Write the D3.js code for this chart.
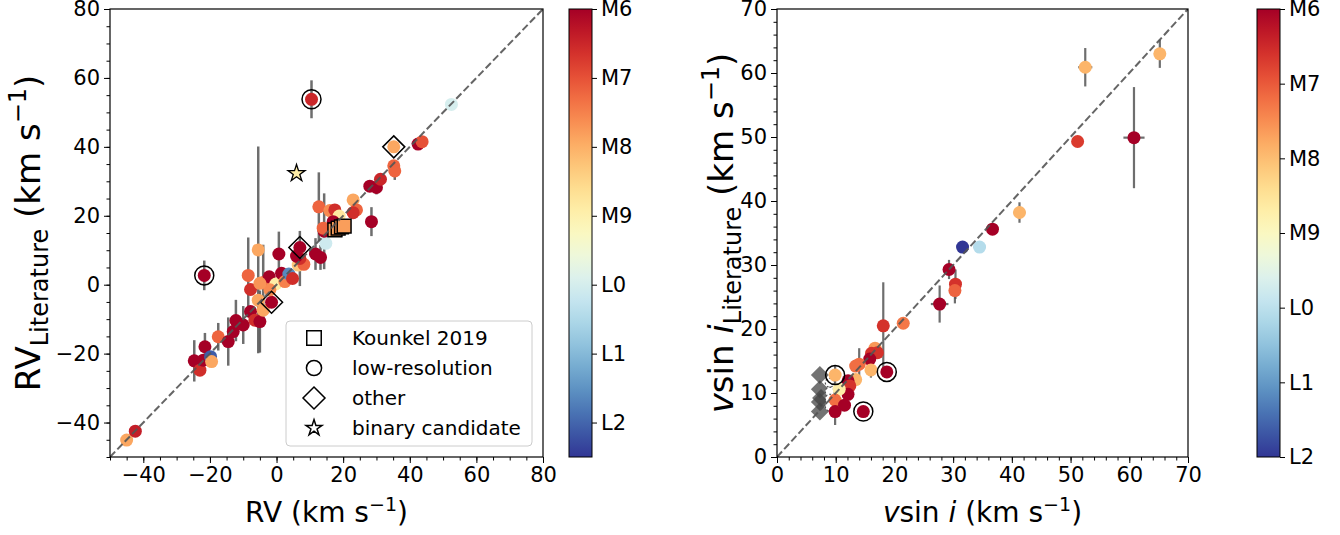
<!DOCTYPE html>
<html><head><meta charset="utf-8">
<script src="https://cdn.jsdelivr.net/npm/d3@7"></script>
<style>
body{margin:0;background:#fff}
svg{display:block}
text{font-family:"DejaVu Sans",sans-serif;fill:#000}
</style>
</head><body>
<svg id="c" width="1340" height="535"></svg>
<script>
// ---------------- DATA ----------------
// Left panel: RV vs RV literature
const rvX   = [-45.0,-42.4,-24.7,-23.0,-22.0,-21.5,-19.8,-19.5,-17.5,-14.5,-13.0,-12.2,-10.0,-7.8,-6.5,-5.0,-5.5,-8.5,-7.8,-5.5,-4.0,-4.0,-2.2,-1.5,-0.2,-2.0,0.7,1.5,2.5,3.7,4.8,6.5,7.0,8.2,7.0,11.7,13.2,14.8,12.7,14.3,16.0,17.5,18.8,17.0,17.5,18.5,19.5,20.3,23.0,24.0,23.0,28.5,28.0,30.0,31.2,35.2,35.5,35.2,42.5,43.7,52.5,10.5,-21.7,-5.0,6.0,14.3,14.0];
const rvY   = [-45.1,-42.5,-22.1,-24.8,-21.9,-18.0,-20.9,-22.3,-15.1,-16.5,-13.6,-10.4,-11.7,-7.8,-10.3,-10.7,10.1,2.7,-1.4,-4.5,-7.4,0.6,2.3,-5.1,0.2,-1.5,8.9,3.3,0.9,3.1,1.8,5.7,10.8,5.9,7.6,8.9,7.9,12.0,22.6,16.3,21.5,21.7,19.9,18.3,15.9,16.4,16.8,17.0,24.6,21.7,20.9,18.3,28.6,28.2,30.6,34.5,33.0,40.0,40.8,41.5,52.3,53.8,2.7,0.4,8.3,15.5,16.4];
const rvYErr= [0,0,6,0,0,4,0,0,4,7,0,6,5.5,0,0,9,30,11,0,0,0,11,0,0,0,0,6.5,0,0,0,0,0,0,0,8,4.6,3.6,0,10,0,0,0,0,0,0,0,3,0,0,0,0,4.2,0,2,0,0,2.6,0,0,0,0,5.5,4.3,0,0,11,0];
const rvSpT = [7.9,6.4,6.0,6.6,6.0,6.0,12.1,7.9,7.2,6.0,6.0,6.0,6.0,6.0,6.6,6.0,7.9,7.2,6.6,7.9,7.9,7.2,6.0,6.0,8.9,7.6,6.0,6.0,7.5,11.6,6.6,8.3,6.0,7.2,6.6,6.0,6.0,10.1,7.2,7.6,7.6,6.6,8.8,6.0,7.8,7.8,7.7,7.8,7.9,7.2,6.6,6.0,6.0,6.0,6.5,7.2,7.2,7.9,6.0,7.0,10.0,6.5,6.0,7.7,6.0,6.0,7.2];
const rvKounkelIdx = [44,45,46,47];
const rvLowResIdx  = [61,62];
const rvOtherIdx   = [23,32,57];
const binX = [6.0], binY = [32.3], binSpT = [8.9];

// Right panel: vsini vs vsini literature
const vsX    = [65.2,52.5,60.8,51.2,41.3,36.7,31.6,34.5,29.3,30.4,30.3,27.7,18.1,21.5,16.7,16.1,17.1,15.8,14.0,13.4,16.0,13.4,12.1,12.4,12.1,10.6,9.9,9.9,11.5,9.9,14.7,18.7];
const vsY    = [63.0,60.9,49.9,49.3,38.2,35.6,32.8,32.8,29.3,27.0,26.0,23.9,20.5,20.9,17.0,16.2,16.3,15.3,14.5,14.2,13.6,12.1,11.9,11.1,9.8,10.6,12.8,8.9,8.1,7.1,7.1,13.3];
const vsXErr = [1.0,1.2,1.8,0.8,1.0,0.8,1.0,1.0,1.0,0.8,0.8,1.5,1.0,1.0,0.8,0.8,0,0,0.8,0,0.8,0,0,0,0,0,0,0,0,0,0,0];
const vsYErr = [2.2,3.0,7.9,0.8,1.6,0.8,0.5,0.5,1.5,2.3,2.0,2.9,6.8,0.5,0.8,0.8,0,0,2.5,0,1.2,0,0,0,0,0,1.5,0,0,2.1,0.8,0.8];
const vsSpT  = [7.9,7.9,6.0,6.7,7.9,6.0,12.0,10.1,6.0,6.6,7.1,6.0,6.6,7.3,7.6,6.6,6.6,6.0,7.2,7.2,7.9,7.9,6.0,6.6,6.0,8.7,7.9,7.2,6.0,6.0,6.0,6.0];
const vsLowResIdx = [26,30,31];
const limX = [7.3,7.3,7.5,7.3,7.3], limY = [12.8,10.6,9.2,8.6,7.1];
const openX = [9.0,9.0,9.0,9.0], openY = [11.6,10.2,9.1,7.9];

const cbTickLabels = ["M6","M7","M8","M9","L0","L1","L2"];
const cbTickValues = [6,7,8,9,10,11,12];
const legendLabels = ["Kounkel 2019","low-resolution","other","binary candidate"];

// ---------------- DRAWING ----------------
const svg = d3.select("#c");
const FONT = 21;
const GRAY = "#555";

function diamondPath(h){ return `M0,${-h}L${h},0L0,${h}L${-h},0Z`; }

function drawAxes(g, x, y, xMajor, xMinor, yMajor, yMinor){
  const [x0,x1] = x.range(), [y1,y0] = y.range();
  const ax = g.append("g").attr("transform",`translate(0,${y1})`)
    .call(d3.axisBottom(x).tickValues(xMinor).tickSize(3.5).tickFormat(""));
  const ax2 = g.append("g").attr("transform",`translate(0,${y1})`)
    .call(d3.axisBottom(x).tickValues(xMajor).tickSize(6).tickPadding(4).tickFormat(d3.format("")));
  const ay = g.append("g").attr("transform",`translate(${x0},0)`)
    .call(d3.axisLeft(y).tickValues(yMinor).tickSize(3.5).tickFormat(""));
  const ay2 = g.append("g").attr("transform",`translate(${x0},0)`)
    .call(d3.axisLeft(y).tickValues(yMajor).tickSize(6).tickPadding(4).tickFormat(d3.format("")));
  [ax,ax2,ay,ay2].forEach(a=>{
    a.select(".domain").remove();
    a.selectAll(".tick line").attr("stroke","#000").attr("stroke-width",1);
    a.selectAll(".tick text").attr("font-size",FONT).attr("font-family","DejaVu Sans").attr("fill","#000");
  });
  g.append("rect").attr("x",x0).attr("y",y0).attr("width",x1-x0).attr("height",y1-y0)
    .attr("fill","none").attr("stroke","#000").attr("stroke-width",1.2);
}

function drawColorbar(g, xl, w, top, bot, vmax){
  const sc = d3.scaleLinear().domain([6,vmax]).range([top,bot]);
  const id = "grad"+Math.round(xl);
  const grad = svg.append("defs").append("linearGradient").attr("id",id)
    .attr("x1",0).attr("y1",0).attr("x2",0).attr("y2",1);
  d3.range(0,1.0001,0.05).forEach(t=>grad.append("stop").attr("offset",t).attr("stop-color",d3.interpolateRdYlBu(t)));
  g.append("rect").attr("x",xl).attr("y",top).attr("width",w).attr("height",bot-top).attr("fill",`url(#${id})`);
  const ax = g.append("g").attr("transform",`translate(${xl+w},0)`)
    .call(d3.axisRight(sc).tickValues(cbTickValues).tickSize(5).tickPadding(4).tickFormat((d,i)=>cbTickLabels[i]));
  ax.select(".domain").remove();
  ax.selectAll(".tick line").attr("stroke","#000");
  ax.selectAll(".tick text").attr("font-size",FONT).attr("fill","#000");
  g.append("rect").attr("x",xl).attr("y",top).attr("width",w).attr("height",bot-top)
    .attr("fill","none").attr("stroke","#000").attr("stroke-width",1);
}

// ----- Left panel -----
const xL = d3.scaleLinear().domain([-50,80]).range([110,543]);
const yL = d3.scaleLinear().domain([-50,80]).range([457,9]);
const colL = v => d3.interpolateRdYlBu((v-6)/6.5);
const gL = svg.append("g");
svg.append("clipPath").attr("id","clipL").append("rect").attr("x",110).attr("y",9).attr("width",433).attr("height",448);
const pL = gL.append("g").attr("clip-path","url(#clipL)");
const idxL = d3.range(rvX.length);

pL.selectAll(".eb").data(idxL.filter(i=>rvYErr[i]>0)).join("line")
  .attr("x1",i=>xL(rvX[i])).attr("x2",i=>xL(rvX[i]))
  .attr("y1",i=>yL(rvY[i]-rvYErr[i])).attr("y2",i=>yL(rvY[i]+rvYErr[i]))
  .attr("stroke",GRAY).attr("stroke-width",2.5).attr("opacity",0.85);
pL.selectAll(".pt").data(idxL).join("circle")
  .attr("cx",i=>xL(rvX[i])).attr("cy",i=>yL(rvY[i])).attr("r",6.5)
  .attr("fill",i=>colL(rvSpT[i]));
pL.selectAll(".lr").data(rvLowResIdx).join("circle")
  .attr("cx",i=>xL(rvX[i])).attr("cy",i=>yL(rvY[i])).attr("r",9.5)
  .attr("fill","none").attr("stroke","#000").attr("stroke-width",1.5);
pL.selectAll(".ot").data(rvOtherIdx).join("path")
  .attr("transform",i=>`translate(${xL(rvX[i])},${yL(rvY[i])})`).attr("d",diamondPath(11))
  .attr("fill","none").attr("stroke","#000").attr("stroke-width",1.5);
pL.selectAll(".ko").data(rvKounkelIdx).join("path")
  .attr("transform",i=>`translate(${xL(rvX[i])},${yL(rvY[i])})`).attr("d",d3.symbol(d3.symbolSquare,190)())
  .attr("fill",i=>colL(rvSpT[i])).attr("stroke","#000").attr("stroke-width",1.5);
pL.selectAll(".bin").data(binX).join("path")
  .attr("transform",(d,i)=>`translate(${xL(binX[i])},${yL(binY[i])})`).attr("d",d3.symbol(d3.symbolStar,90)())
  .attr("fill",(d,i)=>colL(binSpT[i])).attr("stroke","#000").attr("stroke-width",1.3);
pL.append("line").attr("x1",xL(-50)).attr("y1",yL(-50)).attr("x2",xL(80)).attr("y2",yL(80))
  .attr("stroke",GRAY).attr("stroke-width",2).attr("stroke-dasharray","7.4,3.2").attr("opacity",0.9);

const ticksL = [-40,-20,0,20,40,60,80];
const minorL = d3.range(-50,81,5);
drawAxes(gL, xL, yL, ticksL, minorL, ticksL, minorL);

// legend
const leg = gL.append("g");
leg.append("rect").attr("x",286).attr("y",321).attr("width",246).attr("height",125).attr("rx",4)
  .attr("fill","#fff").attr("fill-opacity",0.8).attr("stroke","#ccc").attr("stroke-width",1);
const legShapes = [d3.symbol(d3.symbolSquare,210)(), d3.symbol(d3.symbolCircle,180)(), diamondPath(11), d3.symbol(d3.symbolStar,80)()];
legendLabels.forEach((lab,i)=>{
  const cy = 338 + i*30;
  leg.append("path").attr("transform",`translate(314,${cy})`).attr("d",legShapes[i])
    .attr("fill","none").attr("stroke","#000").attr("stroke-width",1.5);
  leg.append("text").attr("x",352).attr("y",cy).attr("dy","0.35em").attr("font-size",20).text(lab);
});

// labels left
const xlabL = gL.append("text").attr("x",326.5).attr("y",522).attr("text-anchor","middle").attr("font-size",28);
xlabL.append("tspan").text("RV (km s");
xlabL.append("tspan").attr("font-size",19).attr("dy",-11).text("−1");
xlabL.append("tspan").attr("dy",11).text(")");

const ylabL = gL.append("text").attr("transform","translate(40,233) rotate(-90)").attr("text-anchor","middle").attr("font-size",34);
ylabL.append("tspan").text("RV");
ylabL.append("tspan").attr("font-size",24).attr("dy",8).text("Literature");
ylabL.append("tspan").attr("dy",-8).text(" (km s");
ylabL.append("tspan").attr("font-size",24).attr("dy",-14).text("−1");
ylabL.append("tspan").attr("dy",14).text(")");

drawColorbar(gL, 569, 23, 9, 457, 12.5);

// ----- Right panel -----
const xR = d3.scaleLinear().domain([0,70]).range([777,1188]);
const yR = d3.scaleLinear().domain([0,70]).range([457,9]);
const colR = v => d3.interpolateRdYlBu((v-6)/6);
const gR = svg.append("g");
svg.append("clipPath").attr("id","clipR").append("rect").attr("x",777).attr("y",9).attr("width",411).attr("height",448);
const pR = gR.append("g").attr("clip-path","url(#clipR)");
const idxR = d3.range(vsX.length);

pR.selectAll(".lim").data(limX).join("path")
  .attr("transform",(d,i)=>`translate(${xR(limX[i])},${yR(limY[i])})`).attr("d",diamondPath(9))
  .attr("fill","#444").attr("opacity",0.75);
pR.selectAll(".open").data(openX).join("circle")
  .attr("cx",(d,i)=>xR(openX[i])).attr("cy",(d,i)=>yR(openY[i])).attr("r",4.5)
  .attr("fill","#fff").attr("stroke",GRAY).attr("stroke-width",1.2).attr("stroke-dasharray","2,2");
pR.selectAll(".ebx").data(idxR.filter(i=>vsXErr[i]>0)).join("line")
  .attr("x1",i=>xR(vsX[i]-vsXErr[i])).attr("x2",i=>xR(vsX[i]+vsXErr[i]))
  .attr("y1",i=>yR(vsY[i])).attr("y2",i=>yR(vsY[i]))
  .attr("stroke",GRAY).attr("stroke-width",2.2).attr("opacity",0.85);
pR.selectAll(".eby").data(idxR.filter(i=>vsYErr[i]>0)).join("line")
  .attr("x1",i=>xR(vsX[i])).attr("x2",i=>xR(vsX[i]))
  .attr("y1",i=>yR(vsY[i]-vsYErr[i])).attr("y2",i=>yR(vsY[i]+vsYErr[i]))
  .attr("stroke",GRAY).attr("stroke-width",2.2).attr("opacity",0.85);
pR.selectAll(".pt").data(idxR).join("circle")
  .attr("cx",i=>xR(vsX[i])).attr("cy",i=>yR(vsY[i])).attr("r",6.5)
  .attr("fill",i=>colR(vsSpT[i]));
pR.selectAll(".lr").data(vsLowResIdx).join("circle")
  .attr("cx",i=>xR(vsX[i])).attr("cy",i=>yR(vsY[i])).attr("r",9.5)
  .attr("fill","none").attr("stroke","#000").attr("stroke-width",1.5);
pR.append("line").attr("x1",xR(0)).attr("y1",yR(0)).attr("x2",xR(70)).attr("y2",yR(70))
  .attr("stroke",GRAY).attr("stroke-width",2).attr("stroke-dasharray","7.4,3.2").attr("opacity",0.9);

const ticksR = d3.range(0,71,10);
const minorR = d3.range(0,71,2);
drawAxes(gR, xR, yR, ticksR, minorR, ticksR, minorR);

const xlabR = gR.append("text").attr("x",982.5).attr("y",522).attr("text-anchor","middle").attr("font-size",28);
xlabR.append("tspan").attr("font-style","italic").text("v");
xlabR.append("tspan").text("sin ");
xlabR.append("tspan").attr("font-style","italic").text("i");
xlabR.append("tspan").text(" (km s");
xlabR.append("tspan").attr("font-size",19).attr("dy",-11).text("−1");
xlabR.append("tspan").attr("dy",11).text(")");

const ylabR = gR.append("text").attr("transform","translate(733,233) rotate(-90)").attr("text-anchor","middle").attr("font-size",34);
ylabR.append("tspan").attr("font-style","italic").text("v");
ylabR.append("tspan").text("sin ");
ylabR.append("tspan").attr("font-style","italic").text("i");
ylabR.append("tspan").attr("font-size",24).attr("dy",8).text("Literature");
ylabR.append("tspan").attr("dy",-8).text(" (km s");
ylabR.append("tspan").attr("font-size",24).attr("dy",-14).text("−1");
ylabR.append("tspan").attr("dy",14).text(")");

drawColorbar(gR, 1257, 23, 9, 457, 12);
</script>
</body></html>
